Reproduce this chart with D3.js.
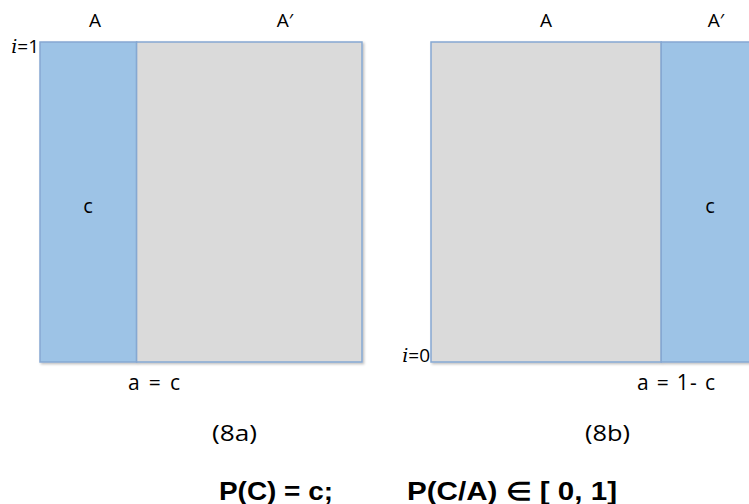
<!DOCTYPE html>
<html>
<head>
<meta charset="utf-8">
<script src="https://cdn.jsdelivr.net/npm/d3@7"></script>
<style>
  body { margin: 0; background: #fff; }
  svg { display: block; }
</style>
</head>
<body>
<svg width="749" height="504"></svg>
<script>
// panel data
const panelIds = ["(8a)", "(8b)"];
const aShares = [0.3, 0.715];          // share of the square taken by A
const cSide = ["A", "A′"];             // which part carries c
const partNames = ["A", "A′"];
const rowLabels = ["=1", "=0"];
const bottomLabels = ["a = c", "a = 1- c"];
const formula = ["P(C) = c;", "P(C/A) \u2208 [ 0,  1]"];

const svg = d3.select("svg");

const panelX = d3.scaleOrdinal().domain(panelIds).range([40, 431]);
const panelW = 322;
const y = d3.scaleLinear().domain([0, 1]).range([362, 42]);

const blue = "#9dc3e6";
const grey = "#dadada";
const edge = "#86a8d2";
const font = "Open Sans, sans-serif";

// label placement per panel (hand tuned)
const topX = [[95, 285], [546, 716]];
const botX = [[128, 52], [637, 78]];
const idX = [212, 585];

// soft shadow
const defs = svg.append("defs");
const f = defs.append("filter").attr("id", "sh").attr("x", "-5%").attr("y", "-5%").attr("width", "115%").attr("height", "115%");
f.append("feDropShadow").attr("dx", 1.5).attr("dy", 1.5).attr("stdDeviation", 1.2).attr("flood-color", "#000").attr("flood-opacity", 0.25);

panelIds.forEach((id, i) => {
  const x = d3.scaleLinear().domain([0, 1]).range([panelX(id), panelX(id) + panelW]);
  const g = svg.append("g");
  const a = aShares[i];
  const parts = [
    { name: partNames[0], x0: 0, x1: a },
    { name: partNames[1], x0: a, x1: 1 }
  ];

  g.append("g").attr("filter", "url(#sh)")
    .selectAll("rect")
    .data(parts)
    .join("rect")
    .attr("x", d => x(d.x0))
    .attr("y", y(1))
    .attr("width", d => x(d.x1) - x(d.x0))
    .attr("height", y(0) - y(1))
    .attr("fill", d => (d.name === cSide[i] ? blue : grey))
    .attr("stroke", edge)
    .attr("stroke-width", 1.5);

  // top labels
  g.selectAll(".top")
    .data(parts)
    .join("text")
    .attr("class", "top")
    .attr("x", (d, j) => topX[i][j])
    .attr("y", 27)
    .attr("text-anchor", "middle")
    .attr("font-family", font)
    .attr("font-size", 19)
    .text(d => d.name);

  // c label in blue part
  g.append("text")
    .attr("x", i === 0 ? 88 : 710)
    .attr("y", 213)
    .attr("text-anchor", "middle")
    .attr("font-family", font)
    .attr("font-size", 20)
    .text("c");

  // row label i=1 / i=0
  const rt = g.append("text")
    .attr("x", x(0) - 1)
    .attr("y", i === 0 ? 53 : 362)
    .attr("text-anchor", "end")
    .attr("font-size", 19);
  rt.append("tspan").attr("font-family", "DejaVu Serif, serif").attr("font-style", "italic").text("i");
  rt.append("tspan").attr("font-family", font).text(rowLabels[i]);

  // bottom label a = ...
  g.append("text")
    .attr("x", botX[i][0])
    .attr("y", 390)
    .attr("font-family", font)
    .attr("font-size", 21)
    .attr("textLength", botX[i][1])
    .attr("lengthAdjust", "spacing")
    .text(bottomLabels[i]);

  // panel id
  g.append("text")
    .attr("x", idX[i])
    .attr("y", 441)
    .attr("font-family", font)
    .attr("font-size", 21)
    .attr("textLength", 45)
    .attr("lengthAdjust", "spacingAndGlyphs")
    .text(id);
});

const fx = [[219, 114], [407, 210]];
svg.selectAll(".formula")
  .data(formula)
  .join("text")
  .attr("class", "formula")
  .attr("x", (d, i) => fx[i][0])
  .attr("y", 500)
  .attr("font-family", "Liberation Sans, Arial, sans-serif")
  .attr("font-weight", "bold")
  .attr("font-size", 25)
  .attr("textLength", (d, i) => fx[i][1])
  .attr("lengthAdjust", "spacingAndGlyphs")
  .text(d => d);
</script>
</body>
</html>
